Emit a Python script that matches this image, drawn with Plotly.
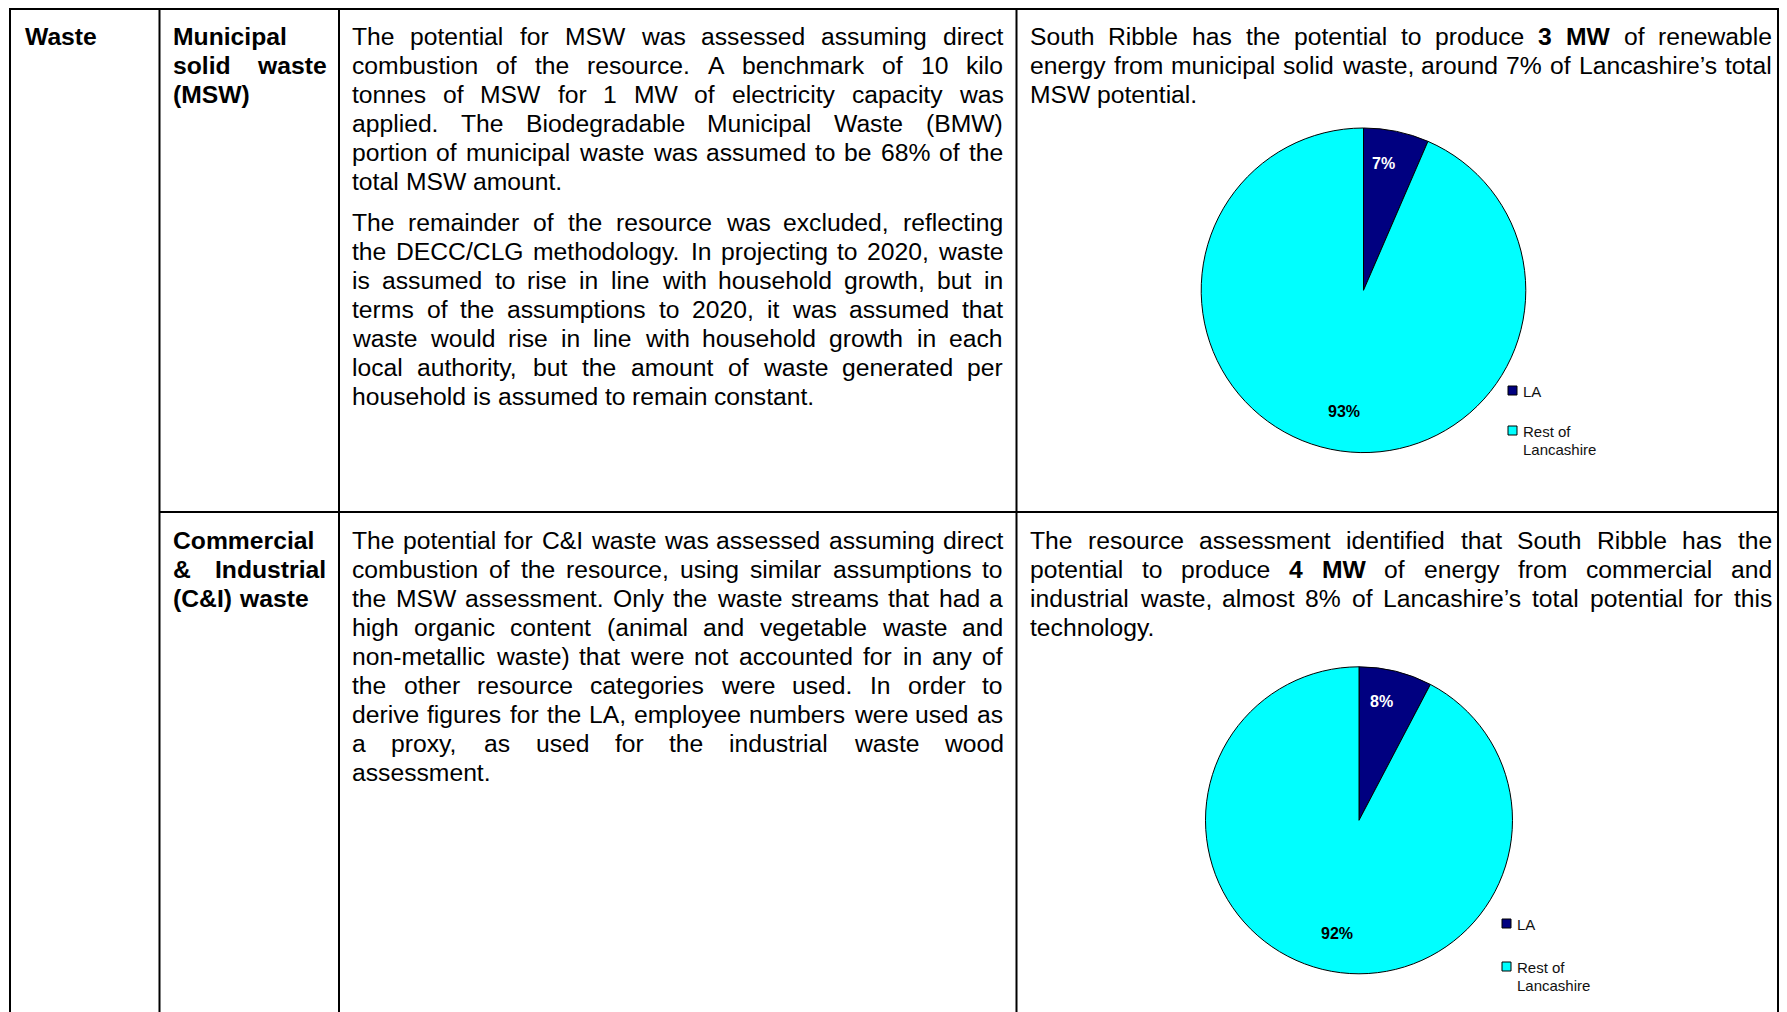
import math
import plotly.graph_objects as go

# The page body has an 8px margin, so the figure starts at page (8, 8)
# and the visible width is the window width minus both body margins.
PAGE_OFF = 8
W, H = 1787 - 2 * PAGE_OFF, 1012 - PAGE_OFF
FONT = "Liberation Sans, Arial, sans-serif"
FS = 24.7          # body text size (px)
LEG_FS = 15        # legend text size
PIE_FS = 16        # pie label size

# ---------------- data ----------------
pie_labels = ["LA", "Rest of Lancashire"]
legend_lines = [["LA"], ["Rest of", "Lancashire"]]
slice_colors = ["#000080", "#00FFFF"]
label_colors = ["white", "black"]

msw_share = [6.5, 93.5]          # % of Lancashire MSW potential
msw_label = ["7%", "93%"]
ci_share = [7.7, 92.3]           # % of Lancashire C&I potential
ci_label = ["8%", "92%"]

col1_text = ["Waste"]
msw_title = ["Municipal", "solid waste", "(MSW)"]
ci_title = ["Commercial", "& Industrial", "(C&I) waste"]

msw_method_p1 = [
    "The potential for MSW was assessed assuming direct",
    "combustion of the resource. A benchmark of 10 kilo",
    "tonnes of MSW for 1 MW of electricity capacity was",
    "applied. The Biodegradable Municipal Waste (BMW)",
    "portion of municipal waste was assumed to be 68% of the",
    "total MSW amount.",
]
msw_method_p2 = [
    "The remainder of the resource was excluded, reflecting",
    "the DECC/CLG methodology. In projecting to 2020, waste",
    "is assumed to rise in line with household growth, but in",
    "terms of the assumptions to 2020, it was assumed that",
    "waste would rise in line with household growth in each",
    "local authority, but the amount of waste generated per",
    "household is assumed to remain constant.",
]
msw_result = [
    "South Ribble has the potential to produce *3* *MW* of renewable",
    "energy from municipal solid waste, around 7% of Lancashire\u2019s total",
    "MSW potential.",
]
ci_method = [
    "The potential for C&I waste was assessed assuming direct",
    "combustion of the resource, using similar assumptions to",
    "the MSW assessment. Only the waste streams that had a",
    "high organic content (animal and vegetable waste and",
    "non-metallic waste) that were not accounted for in any of",
    "the other resource categories were used. In order to",
    "derive figures for the LA, employee numbers were used as",
    "a proxy, as used for the industrial waste wood",
    "assessment.",
]
ci_result = [
    "The resource assessment identified that South Ribble has the",
    "potential to produce *4* *MW* of energy from commercial and",
    "industrial waste, almost 8% of Lancashire\u2019s total potential for this",
    "technology.",
]

# ---------------- font metrics (Arial / Liberation Sans, per 1000 em) ----------------
REG = {' ': 278, '!': 278, '%': 889, '&': 667, "'": 191, '\u2019': 222, '(': 333, ')': 333,
       ',': 278, '-': 333, '.': 278, '/': 278, ':': 278,
       'A': 667, 'B': 667, 'C': 722, 'D': 722, 'E': 667, 'F': 611, 'G': 778, 'H': 722,
       'I': 278, 'J': 500, 'K': 667, 'L': 556, 'M': 833, 'N': 722, 'O': 778, 'P': 667,
       'Q': 778, 'R': 722, 'S': 667, 'T': 611, 'U': 722, 'V': 667, 'W': 944, 'X': 667,
       'Y': 667, 'Z': 611,
       'a': 556, 'b': 556, 'c': 500, 'd': 556, 'e': 556, 'f': 278, 'g': 556, 'h': 556,
       'i': 222, 'j': 222, 'k': 500, 'l': 222, 'm': 833, 'n': 556, 'o': 556, 'p': 556,
       'q': 556, 'r': 333, 's': 500, 't': 278, 'u': 556, 'v': 500, 'w': 722, 'x': 500,
       'y': 500, 'z': 500}
for d in "0123456789":
    REG[d] = 556
BOLD = {' ': 278, '%': 889, '&': 722, '(': 333, ')': 333, '.': 278, ',': 278,
        'A': 722, 'B': 722, 'C': 722, 'D': 722, 'E': 667, 'F': 611, 'G': 778, 'H': 722,
        'I': 278, 'J': 556, 'K': 722, 'L': 611, 'M': 833, 'N': 722, 'O': 778, 'P': 667,
        'Q': 778, 'R': 722, 'S': 667, 'T': 611, 'U': 722, 'V': 667, 'W': 944, 'X': 667,
        'Y': 667, 'Z': 611,
        'a': 556, 'b': 611, 'c': 556, 'd': 611, 'e': 556, 'f': 333, 'g': 611, 'h': 611,
        'i': 278, 'j': 278, 'k': 556, 'l': 278, 'm': 889, 'n': 611, 'o': 611, 'p': 611,
        'q': 611, 'r': 389, 's': 556, 't': 333, 'u': 611, 'v': 556, 'w': 778, 'x': 556,
        'y': 556, 'z': 500}
for d in "0123456789":
    BOLD[d] = 556


def tw(s, fs, bold=False):
    t = BOLD if bold else REG
    return sum(t.get(c, 556) for c in s) * fs / 1000.0


def px(x):
    """page x (px) -> paper fraction"""
    return (x - PAGE_OFF) / W


def py(y):
    """page y (px, downward) -> paper fraction"""
    return 1 - (y - PAGE_OFF) / H


annotations = []
shapes = []


def add_text(x, baseline, text, fs, bold=False, color="black", anchor="left"):
    label = f"<b>{text}</b>" if bold else text
    annotations.append(dict(
        x=px(x), y=py(baseline - 0.3465 * fs), xref="paper", yref="paper",
        text=label, showarrow=False, xanchor=anchor, yanchor="middle",
        font=dict(family=FONT, size=fs, color=color),
        borderpad=0, borderwidth=0))


def add_paragraph(lines, left, right, first_baseline, step, bold_all=False, fs=FS):
    for i, line in enumerate(lines):
        base = first_baseline + i * step
        words = []
        for w in line.split(" "):
            b = bold_all
            if len(w) > 2 and w.startswith("*") and w.endswith("*"):
                w, b = w[1:-1], True
            words.append((w, b))
        last = (i == len(lines) - 1)
        if last or len(words) == 1:
            x = left
            for w, b in words:
                add_text(x, base, w, fs, b)
                x += tw(w, fs, b) + tw(" ", fs)
        else:
            widths = [tw(w, fs, b) for w, b in words]
            gap = (right - left - sum(widths)) / (len(words) - 1)
            x = left
            for (w, b), wd in zip(words, widths):
                add_text(x, base, w, fs, b)
                x += wd + gap
    return first_baseline + (len(lines) - 1) * step


# ---------------- table grid ----------------
LINE = dict(color="black", width=2)
TOP, ROWDIV, BOTTOM = 9, 512, 1014
XL, XC1, XC2, XC3, XR = 10, 159.5, 339, 1016.5, 1778
shapes.append(dict(type="line", xref="paper", yref="paper", x0=px(XL - 1), x1=px(XR + 1),
                   y0=py(TOP), y1=py(TOP), line=LINE))
for xv in (XL, XC1, XC2, XC3, XR):
    shapes.append(dict(type="line", xref="paper", yref="paper", x0=px(xv), x1=px(xv),
                       y0=py(TOP), y1=py(BOTTOM), line=LINE))
shapes.append(dict(type="line", xref="paper", yref="paper", x0=px(XC1), x1=px(XR + 1),
                   y0=py(ROWDIV), y1=py(ROWDIV), line=LINE))

# ---------------- text ----------------
STEP = 29.0
R1, R2 = 45, 549.5
add_paragraph(col1_text, 25, 150, R1, STEP, bold_all=True)
add_paragraph(msw_title, 173, 326, R1, STEP, bold_all=True)
add_paragraph(ci_title, 173, 326, R2, STEP, bold_all=True)
end = add_paragraph(msw_method_p1, 352, 1003, R1, STEP)
add_paragraph(msw_method_p2, 352, 1003, end + 41.5, STEP)
add_paragraph(ci_method, 352, 1003, R2, STEP)
add_paragraph(msw_result, 1030, 1772, R1, STEP)
add_paragraph(ci_result, 1030, 1772, R2, STEP)

# ---------------- pies ----------------
pies = [
    dict(share=msw_share, text=msw_label, cx=1363.5, cy=290.3, r=162.3,
         leg_x=1508, leg_y=[390.5, 430.5]),
    dict(share=ci_share, text=ci_label, cx=1359, cy=820.3, r=153.5,
         leg_x=1502, leg_y=[923.5, 966.5]),
]

fig = go.Figure()
for p in pies:
    cx, cy, r = p["cx"], p["cy"], p["r"]
    fig.add_trace(go.Pie(
        labels=pie_labels, values=p["share"], sort=False, direction="clockwise",
        rotation=0, marker=dict(colors=slice_colors, line=dict(color="black", width=1)),
        textinfo="none", hoverinfo="label+percent", showlegend=False,
        domain=dict(x=[px(cx - r), px(cx + r)], y=[py(cy + r), py(cy - r)]),
    ))
    total = sum(p["share"])
    cum = 0
    for v, t, c in zip(p["share"], p["text"], label_colors):
        ang = 2 * math.pi * (cum + v / 2) / total
        cum += v
        lx = cx + 0.6 * r * math.sin(ang)
        ly = cy - 0.78 * r * math.cos(ang) - 3
        annotations.append(dict(
            x=px(lx), y=py(ly), xref="paper", yref="paper", text=f"<b>{t}</b>",
            showarrow=False, xanchor="center", yanchor="middle",
            font=dict(family=FONT, size=PIE_FS, color=c), borderpad=0, borderwidth=0))
    # legend
    for col, yc, lines in zip(slice_colors, p["leg_y"], legend_lines):
        shapes.append(dict(type="rect", xref="paper", yref="paper",
                           x0=px(p["leg_x"]), x1=px(p["leg_x"] + 9),
                           y0=py(yc - 4.5), y1=py(yc + 4.5),
                           fillcolor=col, line=dict(color="black", width=1)))
        for k, ln in enumerate(lines):
            add_text(p["leg_x"] + 15, yc + 0.3465 * LEG_FS + 0.5 + k * 18.5, ln, LEG_FS,
                     color="#111111")

fig.update_layout(
    width=W, height=H, margin=dict(l=0, r=0, t=0, b=0),
    paper_bgcolor="white", plot_bgcolor="white",
    shapes=shapes, annotations=annotations, showlegend=False,
)
fig.write_html("out.html")
